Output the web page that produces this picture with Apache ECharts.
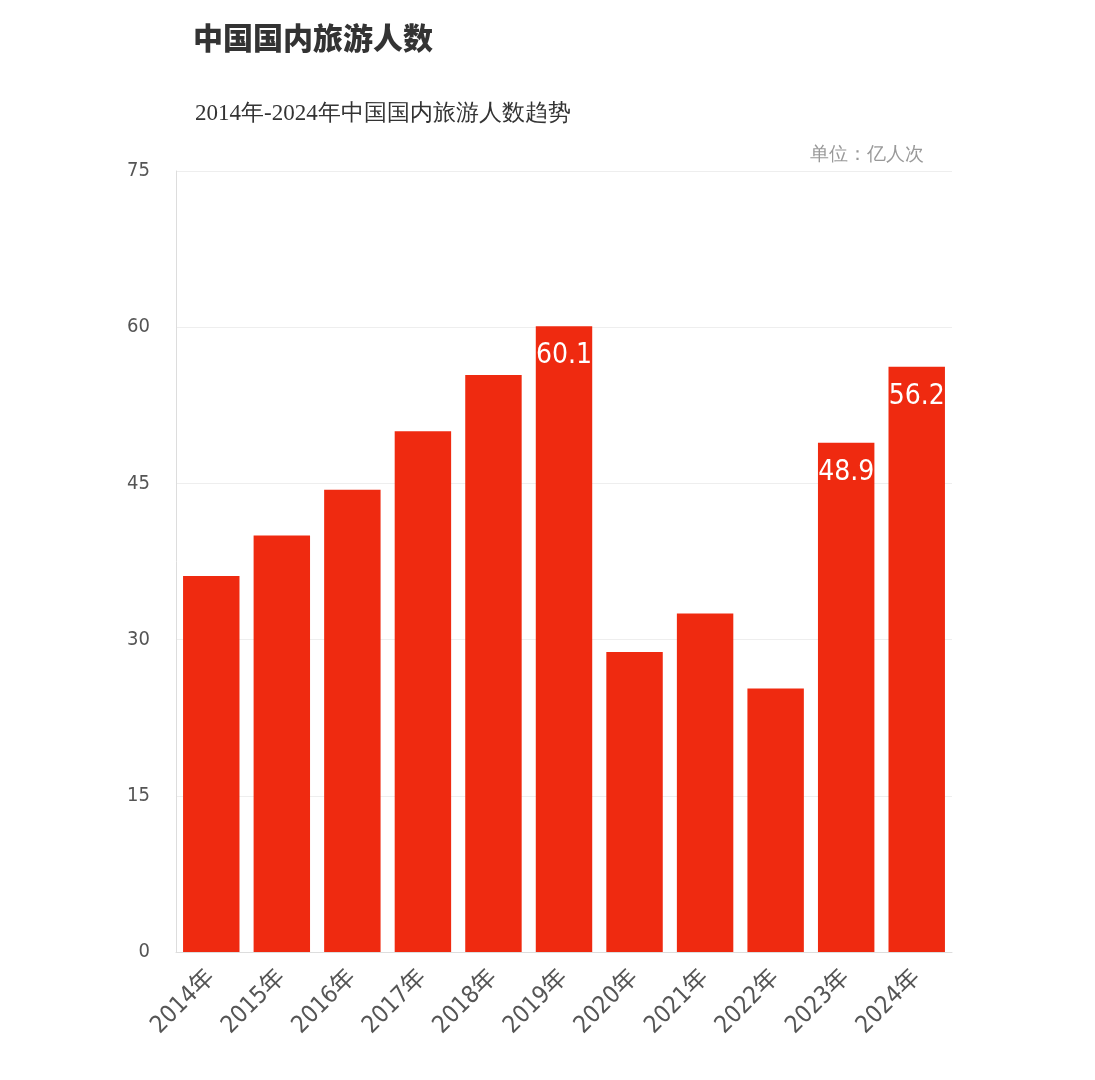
<!DOCTYPE html>
<html>
<head>
<meta charset="utf-8">
<script src="https://cdn.jsdelivr.net/npm/echarts@6/dist/echarts.min.js"></script>
<style>
  html, body { margin: 0; padding: 0; background: #fff; }
  #chart { width: 1095px; height: 1080px; }
</style>
</head>
<body>
<div id="chart"></div>
<script>
const years = ['2014年', '2015年', '2016年', '2017年', '2018年', '2019年', '2020年', '2021年', '2022年', '2023年', '2024年']
const trips = [36.1, 40.0, 44.4, 50.0, 55.4, 60.1, 28.8, 32.5, 25.3, 48.9, 56.2]
// only these years get a value label
const labelled = ['2019年', '2023年', '2024年']

const chart = echarts.init(document.getElementById('chart'))

const numFont = '"DejaVu Sans Condensed", "Noto Sans CJK SC", sans-serif'

const option = {
  title: [
    {
      text: '中国国内旅游人数',
      left: 188, top: 18,
      textStyle: { fontSize: 30, fontWeight: 900, color: '#333', fontFamily: '"Noto Sans CJK SC"' }
    },
    {
      text: '2014年-2024年中国国内旅游人数趋势',
      left: 190, top: 97,
      textStyle: { fontSize: 23, fontWeight: 'normal', color: '#333', fontFamily: 'serif' }
    },
    {
      text: '单位：亿人次',
      right: 166, top: 141,
      textStyle: { fontSize: 19, fontWeight: 'normal', color: '#999', fontFamily: 'serif' }
    }
  ],
  grid: { left: 176, right: 143, top: 171, bottom: 128 },
  xAxis: {
    type: 'category',
    data: years,
    axisLine: { lineStyle: { color: '#ddd' } },
    axisTick: { show: false },
    axisLabel: {
      rotate: 45,
      fontSize: 24,
      color: '#555',
      fontFamily: numFont,
      margin: 22,
      interval: 0
    }
  },
  yAxis: {
    type: 'value',
    min: 0, max: 75, interval: 15,
    axisLine: { show: true, lineStyle: { color: '#ddd' } },
    axisTick: { show: false },
    splitLine: { lineStyle: { color: '#eee' } },
    axisLabel: { fontSize: 20, color: '#555', fontFamily: numFont, margin: 26 }
  },
  series: [{
    type: 'bar',
    data: trips.map((v, i) => ({
      value: v,
      label: { show: labelled.includes(years[i]) }
    })),
    barCategoryGap: '20%',
    itemStyle: { color: '#EF2A10' },
    label: {
      position: 'insideTop',
      distance: 16,
      color: '#fff',
      fontSize: 28,
      fontFamily: numFont,
      formatter: p => p.value.toFixed(1)
    }
  }]
}

chart.setOption(option)
</script>
</body>
</html>
